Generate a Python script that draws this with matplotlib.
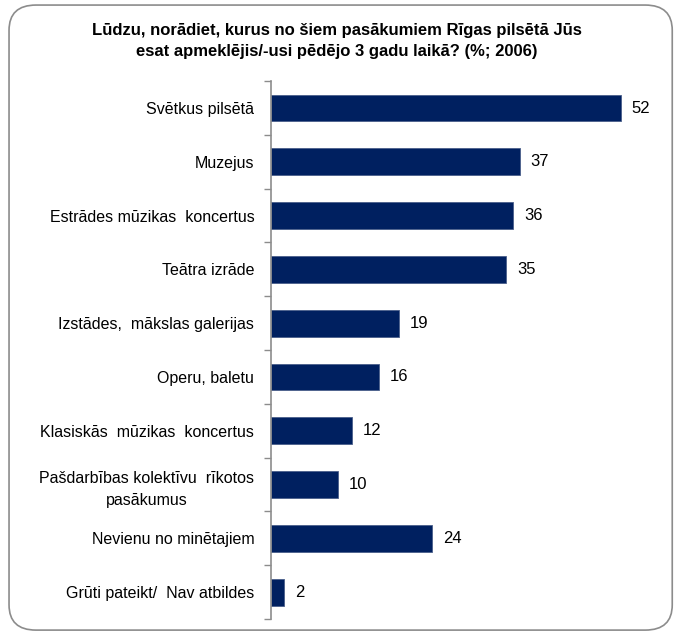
import matplotlib.pyplot as plt
from matplotlib.patches import FancyBboxPatch

plt.rcParams['font.family'] = ['Liberation Sans', 'DejaVu Sans']

# Categories and shares (%)
categories = [
    'Svētkus pilsētā',
    'Muzejus',
    'Estrādes mūzikas  koncertus',
    'Teātra izrāde',
    'Izstādes,  mākslas galerijas',
    'Operu, baletu',
    'Klasiskās  mūzikas  koncertus',
    'Pašdarbības kolektīvu  rīkotos\npasākumus',
    'Nevienu no minētajiem',
    'Grūti pateikt/  Nav atbildes',
]
values = [52, 37, 36, 35, 19, 16, 12, 10, 24, 2]

title = ('Lūdzu, norādiet, kurus no šiem pasākumiem Rīgas pilsētā Jūs\n'
         'esat apmeklējis/-usi pēdējo 3 gadu laikā? (%; 2006)')

bar_color = '#002060'

fig = plt.figure(figsize=(6.74, 6.32), dpi=100)
ax = fig.add_axes([0.402, 0.0206, 0.579, 0.851])

# rounded frame around the whole chart
frame = FancyBboxPatch((0.0134, 0.003), 0.984, 0.989,
                       boxstyle='round,pad=0,rounding_size=0.04',
                       transform=fig.transFigure, facecolor='none',
                       edgecolor='#8c8c8c', linewidth=1.2)
fig.patches.append(frame)

y = list(range(len(categories)))
ax.barh(y, values, height=0.5, color=bar_color, edgecolor='#4a5f8a', linewidth=0.6)
ax.set_ylim(len(categories) - 0.5, -0.5)
ax.set_xlim(0, 58)

for yi, v in zip(y, values):
    ax.text(v + 1.6, yi, str(v), va='center', ha='left', fontsize=12)

ax.set_yticks(y)
ax.set_yticklabels(categories, fontsize=11.5, linespacing=1.6, multialignment='center')
ax.tick_params(axis='y', length=0, pad=12)
ax.set_yticks([i + 0.5 for i in range(-1, len(categories))], minor=True)
ax.tick_params(axis='y', which='minor', length=5, color='#8c8c8c', width=1)
ax.set_xticks([])
for s in ['top', 'right', 'bottom']:
    ax.spines[s].set_visible(False)
ax.spines['left'].set_color('#8c8c8c')
ax.spines['left'].set_linewidth(1.2)

fig.text(0.5, 0.935, title, ha='center', va='center', fontsize=12,
         fontweight='bold', linespacing=1.5)

fig.savefig('out.png', dpi=100)
